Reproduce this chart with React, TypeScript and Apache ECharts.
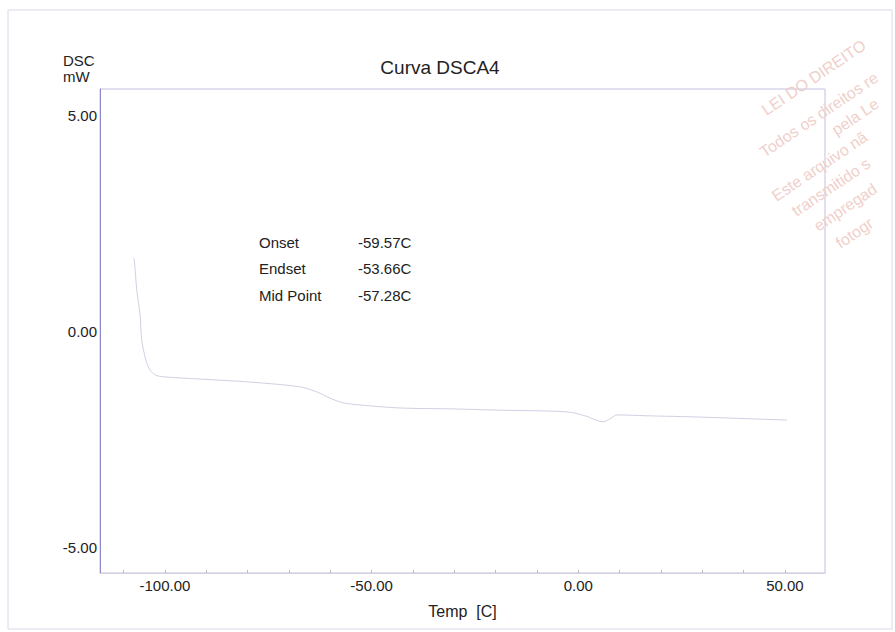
import React, { useEffect, useRef } from "react";
import * as echarts from "echarts";

// DSC trace: temperature (°C) and heat flow (mW)
const temps = [
  -107.5, -107.3, -106.8, -106.0, -105.6, -104.6, -103.6, -102.2, -100.0,
  -91.5, -79.4, -67.3, -63.2, -60.1, -56.9, -52.8, -43.1, -31.0, -18.9,
  -2.7, 1.6, 6.0, 7.7, 9.4, 16.6, 29.4, 50.5,
];
const dscValues = [
  1.71, 1.55, 0.97, 0.39, -0.19, -0.65, -0.88, -1.0, -1.04,
  -1.09, -1.16, -1.27, -1.39, -1.53, -1.64, -1.69, -1.76, -1.78, -1.81,
  -1.85, -1.94, -2.08, -2.01, -1.92, -1.94, -1.97, -2.04,
];

const xLabelValues = [-100, -50, 0, 50];
const xTickValues = [-110, -100, -90, -80, -70, -60, -50, -40, -30, -20, -10, 0, 10, 20, 30, 40, 50];
const yLabelValues = [-5, 0, 5];

// Glass-transition analysis results
const resultNames = ["Onset", "Endset", "Mid Point"];
const resultValues = ["-59.57C", "-53.66C", "-57.28C"];

// Copyright stamp lines (running off the right edge of the sheet)
const stampLines = [
  "LEI DO DIREITO",
  "Todos os direitos re",
  "pela Le",
  "Este arquivo nã",
  "transmitido s",
  "empregad",
  "fotogr",
];

const FONT = "'Liberation Sans', Arial, sans-serif";

export default function App() {
  const ref = useRef<HTMLDivElement>(null);

  useEffect(() => {
    if (!ref.current) return;
    const chart = echarts.init(ref.current, undefined, { renderer: "svg" });

    const stampPos = [
      [768, 118],
      [766, 160],
      [838, 138],
      [778, 204],
      [798, 219],
      [820, 234],
      [842, 251],
    ];
    const stampRot = (34 * Math.PI) / 180;

    const graphics: any[] = [
      {
        type: "rect",
        shape: { x: 8, y: 10, width: 884, height: 619 },
        style: { fill: "none", stroke: "#ddd6e8", lineWidth: 1 },
        silent: true,
      },
      {
        type: "text",
        x: 63,
        y: 60,
        style: { text: "DSC", font: `15px ${FONT}`, fill: "#222", textVerticalAlign: "middle" },
      },
      {
        type: "text",
        x: 63,
        y: 76,
        style: { text: "mW", font: `15px ${FONT}`, fill: "#222", textVerticalAlign: "middle" },
      },
    ];

    resultNames.forEach((name, i) => {
      graphics.push({
        type: "text",
        x: 259,
        y: 242 + i * 26.5,
        style: { text: name, font: `15px ${FONT}`, fill: "#222", textVerticalAlign: "middle" },
      });
      graphics.push({
        type: "text",
        x: 358,
        y: 242 + i * 26.5,
        style: { text: resultValues[i], font: `15px ${FONT}`, fill: "#222", textVerticalAlign: "middle" },
      });
    });

    stampLines.forEach((line, i) => {
      graphics.push({
        type: "text",
        x: stampPos[i][0],
        y: stampPos[i][1],
        rotation: stampRot,
        silent: true,
        style: {
          text: line,
          font: `16px ${FONT}`,
          fill: "#f0cfca",
          textVerticalAlign: "bottom",
        },
      });
    });

    chart.setOption({
      animation: false,
      backgroundColor: "#ffffff",
      title: {
        text: "Curva DSCA4",
        left: 435,
        top: 53,
        textAlign: "center",
        textStyle: { fontFamily: FONT, fontSize: 19, fontWeight: "normal", color: "#222" },
      },
      grid: {
        left: 100,
        top: 89,
        right: 70,
        bottom: 59,
        show: true,
        borderColor: "#c4c0e0",
        borderWidth: 1,
        backgroundColor: "transparent",
      },
      xAxis: {
        type: "value",
        min: -115.7,
        max: 59.7,
        name: "Temp  [C]",
        nameLocation: "middle",
        nameGap: 30,
        nameTextStyle: { fontFamily: FONT, fontSize: 16, color: "#222" },
        axisLine: { show: true, onZero: false, lineStyle: { color: "#d2d2de", width: 1 } },
        axisTick: {
          show: true,
          inside: true,
          length: 3,
          customValues: xTickValues,
          lineStyle: { color: "#b8b8c8" },
        },
        axisLabel: {
          customValues: xLabelValues,
          formatter: (v: number) => v.toFixed(2),
          fontFamily: FONT,
          fontSize: 15,
          color: "#222",
          margin: 5,
        },
        splitLine: { show: false },
      },
      yAxis: {
        type: "value",
        min: -5.58,
        max: 5.625,
        axisLine: { show: true, onZero: false, lineStyle: { color: "#8d89d0", width: 1 } },
        axisTick: { show: false },
        axisLabel: {
          customValues: yLabelValues,
          formatter: (v: number) => v.toFixed(2),
          fontFamily: FONT,
          fontSize: 15,
          color: "#222",
          margin: 3,
        },
        splitLine: { show: false },
      },
      series: [
        {
          type: "line",
          data: temps.map((t, i) => [t, dscValues[i]]),
          showSymbol: false,
          smooth: 0.3,
          lineStyle: { color: "#d3cfe3", width: 1 },
        },
      ],
      graphic: graphics,
    });

    return () => chart.dispose();
  }, []);

  return (
    <div
      ref={ref}
      style={{ position: "absolute", left: 0, top: 0, width: 895, height: 632 }}
    />
  );
}
